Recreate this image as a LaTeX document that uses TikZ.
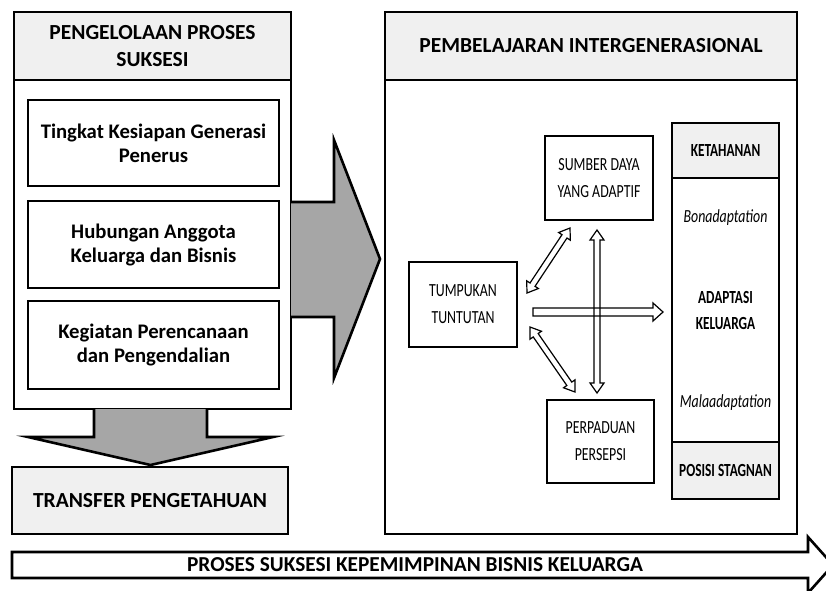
\documentclass[tikz,border=0pt]{standalone}
\usepackage{fontspec}
\setmainfont{Carlito}
\newfontfamily\condf[FakeStretch=0.75]{Carlito}
\newfontfamily\condb[FakeStretch=0.72]{Carlito}
\usetikzlibrary{calc}
\definecolor{hdr}{HTML}{F0F0F0}
\definecolor{arrowgray}{HTML}{A6A6A6}
\newcommand\hollowdouble[2]{%
  \draw[hollow] (#1) -- ($(#1)!10pt!(#2)!7pt!90:(#2)$) -- ($(#1)!10pt!(#2)!3pt!90:(#2)$)
    -- ($(#2)!10pt!(#1)!3pt!-90:(#1)$) -- ($(#2)!10pt!(#1)!7pt!-90:(#1)$) -- (#2)
    -- ($(#2)!10pt!(#1)!7pt!90:(#1)$) -- ($(#2)!10pt!(#1)!3pt!90:(#1)$)
    -- ($(#1)!10pt!(#2)!3pt!-90:(#2)$) -- ($(#1)!10pt!(#2)!7pt!-90:(#2)$) -- cycle;}
\begin{document}
\begin{tikzpicture}[x=1pt,y=-1pt,
  panel/.style={draw, line width=2.8pt, inner sep=0pt},
  hdrbox/.style={draw, line width=2.8pt, fill=hdr, inner sep=0pt, align=center, font=\fontsize{21.5}{27}\selectfont\bfseries},
  itembox/.style={draw, line width=2.6pt, fill=white, inner sep=0pt, align=center, font=\fontsize{20.7}{24}\selectfont\bfseries},
  smallbox/.style={draw, line width=1.9pt, fill=white, inner sep=0pt, align=center, font=\condf\fontsize{18.5}{27}\selectfont},
  colbox/.style={draw, line width=1.9pt, inner sep=0pt, align=center, minimum width=107pt},
  coltext/.style={inner sep=0pt, align=center, font=\condb\fontsize{18.5}{26}\selectfont\bfseries},
  colital/.style={inner sep=0pt, align=center, font=\condf\fontsize{18.5}{26}\selectfont\itshape},
  hollow/.style={draw, line width=1.2pt, line join=miter},
  plain/.style={inner sep=0pt, align=center}
]
\clip (0,0) rectangle (826,590);
\fill[white] (0,0) rectangle (826,590);

% ---------- left panel
\node[panel, minimum width=277pt, minimum height=397pt] (lp) at (152.5,210.5) {};
\node[hdrbox, minimum width=277pt, minimum height=68pt] (lph) at (152.5,46) {PENGELOLAAN PROSES\\SUKSESI};
\node[itembox, minimum width=251pt, minimum height=86pt] (b1) at (153.5,143) {Tingkat Kesiapan Generasi\\Penerus};
\node[itembox, minimum width=251pt, minimum height=87pt] (b2) at (153.5,244.5) {Hubungan Anggota\\Keluarga dan Bisnis};
\node[itembox, minimum width=251pt, minimum height=88pt] (b3) at (153.5,345) {Kegiatan Perencanaan\\dan Pengendalian};

% gray arrow to the right
\fill[arrowgray] (291,202) -- (334,202) -- (334,140) -- (380,259) -- (334,378) -- (334,317) -- (291,317) -- cycle;
\draw[line width=2.6pt, line join=miter] (291,202) -- (334,202) -- (334,140) -- (380,259) -- (334,378) -- (334,317) -- (291,317);

% gray arrow down
\fill[arrowgray] (94,409) -- (94,437) -- (28,437) -- (150.5,465) -- (273,437) -- (207,437) -- (207,409) -- cycle;
\draw[line width=2.6pt, line join=miter] (94,409) -- (94,437) -- (28,437) -- (150.5,465) -- (273,437) -- (207,437) -- (207,409);

\node[hdrbox, minimum width=276pt, minimum height=67pt] (tp) at (150,500.5) {TRANSFER PENGETAHUAN};

% ---------- right panel
\node[panel, minimum width=412pt, minimum height=522pt] (rp) at (591,273) {};
\node[hdrbox, minimum width=412pt, minimum height=68pt] (rph) at (591,46) {PEMBELAJARAN INTERGENERASIONAL};

\node[smallbox, minimum width=108pt, minimum height=84pt] (sd) at (599,178) {SUMBER DAYA\\YANG ADAPTIF};
\node[smallbox, minimum width=108pt, minimum height=85pt] (tt) at (463,304.5) {TUMPUKAN\\TUNTUTAN};
\node[smallbox, minimum width=107pt, minimum height=83pt] (pp) at (600.5,441.5) {PERPADUAN\\PERSEPSI};

\node[colbox, fill=hdr, minimum height=55pt, font=\condb\fontsize{18.5}{26}\selectfont\bfseries] (kt) at (725.5,150.5) {KETAHANAN};
\node[colbox, fill=white, minimum height=264pt] (ak) at (725.5,310) {};
\node[colbox, fill=hdr, minimum height=57pt, font=\condb\fontsize{18.5}{26}\selectfont\bfseries] (ps) at (725.5,470.5) {POSISI STAGNAN};
\node[colital] (bona) at (725.5,218) {Bonadaptation};
\node[coltext] (adk) at (725.5,310) {ADAPTASI\\KELUARGA};
\node[colital] (mala) at (725.5,403) {Malaadaptation};

% hollow arrows
\coordinate (u1) at (527,293);
\coordinate (u2) at (570,228);
\coordinate (v1) at (597,230);
\coordinate (v2) at (597,393);
\coordinate (l1) at (530,327);
\coordinate (l2) at (575,392);
\coordinate (h1) at (533,312);
\coordinate (h2) at (663,312);
\hollowdouble{u1}{u2}
\hollowdouble{l1}{l2}
\draw[hollow] (533,308) -- (653,308) -- (653,303) -- (h2) -- (653,321) -- (653,316) -- (533,316) -- cycle;
\hollowdouble{v1}{v2}

% ---------- bottom arrow
\draw[line width=2.6pt, line join=miter, fill=white] (12,552) -- (808,552) -- (808,537) -- (833,565) -- (808,593) -- (808,578) -- (12,578) -- cycle;
\node[plain, font=\fontsize{21.3}{24}\selectfont\bfseries] (bt) at (415,565) {PROSES SUKSESI KEPEMIMPINAN BISNIS KELUARGA};
\end{tikzpicture}
\end{document}
